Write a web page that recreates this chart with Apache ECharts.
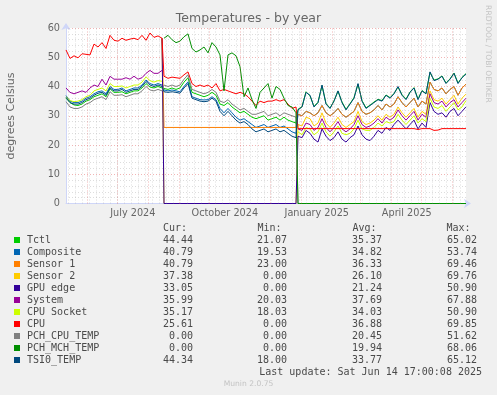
<!DOCTYPE html>
<html><head><meta charset="utf-8">
<script src="https://cdn.jsdelivr.net/npm/echarts@6/dist/echarts.min.js"></script>
<style>html,body{margin:0;padding:0;background:#f0f0f0;}#c{width:497px;height:395px;}</style>
</head><body><div id="c"></div>
<script>
// ---- data ----
const startDate = [2024, 5, 10, 17]; // graph starts 400 days before last update
const days = [0,4,8,12,16,20,24,28,32,36,40,44,48,52,56,60,64,68,72,76,80,84,88,92,96,
  98,102,106,110,114,118,122,126,130,134,138,142,146,150,154,158,162,166,170,174,178,182,186,190,194,198,202,206,210,214,218,222,226,230,
  232,236,240,244,248,252,256,260,264,268,272,276,280,284,288,292,296,300,304,308,312,316,320,324,328,332,336,340,344,348,352,356,360,364,368,372,376,380,384,388,392,396,400];
const monthStarts = ['2024-06-01','2024-07-01','2024-08-01','2024-09-01','2024-10-01','2024-11-01','2024-12-01','2025-01-01','2025-02-01','2025-03-01','2025-04-01','2025-05-01','2025-06-01'];
const tickDates = ['2024-07-16','2024-10-16','2025-01-16','2025-04-16'];
const tickLabels = ['July 2024','October 2024','January 2025','April 2025'];
const yTicks = [0,10,20,30,40,50,60];

const names = ['Tctl','Composite','Sensor 1','Sensor 2','GPU edge','System','CPU Socket','CPU','PCH_CPU_TEMP','PCH_MCH_TEMP','TSI0_TEMP'];
const colors = ['#00CC00','#0066B3','#FF8000','#FFCC00','#330099','#990099','#CCFF00','#FF0000','#808080','#008F00','#00487D'];
const curVals = ['44.44','40.79','40.79','37.38','33.05','35.99','35.17','25.61','0.00','0.00','44.34'];
const minVals = ['21.07','19.53','23.00','0.00','0.00','20.03','18.03','0.00','0.00','0.00','18.00'];
const avgVals = ['35.37','34.82','36.33','26.10','21.24','37.69','34.03','36.88','20.45','19.94','33.77'];
const maxVals = ['65.02','53.74','69.46','69.76','50.90','67.88','50.90','69.85','51.62','68.06','65.12'];

const tctl = [36,34.5,33.7,33.5,34,35,35.5,36.5,37,37.5,36.5,39.2,38,38,38.2,37.5,38,38.5,38.5,39.5,41,39.8,39.5,40,39.5,
  39.5,39,39.5,39,39.5,41.5,43,38,37.5,37,36.5,37,38,37,34,33.5,34.5,33,32,31,31.5,30.5,29.5,29,29.5,30,28.5,29,29.5,28.5,29.5,28.5,28,27.5,
  32.2,33.1,38.2,36.8,33.2,34.6,40.3,34.2,32.6,35.1,38.4,34.7,32.2,34.1,36.2,40.8,35.2,32.7,33.6,34.7,35.6,35.2,37.1,36.2,37.6,39.8,37.2,35.7,38.1,39.6,35.7,38.6,37.6,44.8,42.2,42.6,43.6,41.2,42.6,44.6,41.2,43.1,44.4];
const composite = [36.9,35,34.5,34.5,35,36,36.5,37.5,38.2,38.5,37.5,40,39,39,39.5,38.5,39,39.5,39.5,40.5,42.2,41,40.5,41,40.5,
  38.8,38.5,38.8,38.5,38.2,40,41.6,36.5,36,35.5,35.4,35.5,36.5,35.5,32.5,31,32.5,31,29.5,28.5,29,28,27,26,26.5,27,26,26.5,27,26,26.5,25.5,24.5,24,
  30.5,30,31.5,31,30,31,33.5,31,30,31,32.5,30.5,29.5,30.5,31.5,34.5,31.5,30.5,31,32,33.5,32,34,33,34,36.5,34.5,33,34.5,36,33,35,34,41.5,39,38.5,39.5,37.5,39,40,37,39.5,40.8];
const sensor1 = [null,null,null,null,null,null,null,null,null,null,null,null,null,null,null,null,null,null,null,null,null,null,null,null,56.5,
  26,26,26,26,26,26,26,26,26,26,26,26,26,26,26,26,26,26,26,26,26,26,26,26,26,26,26,26,26,26,26,26,26,26,
  30.5,30,31.5,31,30,31,33.5,31,30,31,32.5,30.5,29.5,30.5,31.5,34.5,31.5,30.5,31,32,33.5,32,34,33,34,36.5,34.5,33,34.5,36,33,35,34,41.5,39,38.5,39.5,37.5,39,40,37,39.5,40.8];
const sensor2 = [null,null,null,null,null,null,null,null,null,null,null,null,null,null,null,null,null,null,null,null,null,null,null,null,56.5,
  0,0,0,0,0,0,0,0,0,0,0,0,0,0,0,0,0,0,0,0,0,0,0,0,0,0,0,0,0,0,0,0,0,0,
  27,26.5,29.5,29,26.5,27.5,31,27.5,26,27.5,29.5,27,26,27,28,31.5,28,27,27.5,28.5,30,28.5,30.5,29.5,30.5,33,31,29.5,31,32.5,29.5,31.5,30.5,38.5,35.5,35,36,34,35.5,37,34,36,37.4];
const gpuEdge = [null,null,null,null,null,null,null,null,null,null,null,null,null,null,null,null,null,null,null,null,null,null,null,null,56.5,
  0,0,0,0,0,0,0,0,0,0,0,0,0,0,0,0,0,0,0,0,0,0,0,0,0,0,0,0,0,0,0,0,0,0,
  23,22.5,25,24,22,21,25.5,23,21.5,22.5,24.5,22,21,22.5,23.5,26.5,23.5,22,21.5,23,25,24,26,25,27,28.5,27,25.5,27,28.5,25.5,27.5,26,34.5,31.5,30.5,31,29.5,31.5,32.5,30,31.5,33.05];
const system = [39.5,38,37.5,38,38.5,38,39.5,40.5,40,42.5,40.5,43.5,42.5,42.5,42.5,43,42.5,43.5,42.5,43,44.5,45.5,44.5,44.5,45.5,
  null,null,null,null,null,null,null,null,null,null,null,null,null,null,null,null,null,null,null,null,null,null,null,null,null,null,null,null,null,null,null,null,null,null,
  25.5,25,27.5,27,25,26,29,26,24.5,26,28,25.5,24.5,25.5,27,30,27,26,26.5,27.5,29,27.5,29.5,28.5,29.5,32,30,28.5,30,31.5,28.5,30.5,29.5,37.5,34.5,34,35,33,34.5,35.5,33,34.5,36];
const cpuSocket = [36.5,35.2,34.8,35,35.5,36.5,37,38.5,39,39.5,38.5,41,40,40,40.2,39.5,40,40.5,40.5,41.5,43.3,42,41.5,42,41.8,
  null,null,null,null,null,null,null,null,null,null,null,null,null,null,null,null,null,null,null,null,null,null,null,null,null,null,null,null,null,null,null,null,null,null,
  24.5,23.5,26,25.5,23.5,24.5,27.5,24.5,23,24.5,26.5,24,23.5,24,25.5,28.5,25.5,25,25,26,27.5,26.5,28,27.5,28,30.5,28.5,27,28.5,30,27.5,29,28,36,33,32.5,33.5,31.5,33,34.5,32,33,35.2];
const cpu = [52.5,49.6,50.5,49.8,51.2,51,50.8,54.5,53.5,55,53,57.5,55.8,55.5,56.5,55.8,56.2,56.5,56,57.5,55.8,58.3,56.8,57.3,56.5,
  43.5,42.8,43.2,43,42.8,44,45,41,40,40.5,40,40.5,39.5,41,38.5,39,38.5,38,37.5,38,37.5,36.5,35,33.5,35,34.5,35,35,35.5,35,35.5,34,32.5,33,
  25.6,25.6,25.6,25.6,25.6,25.6,25.6,25.6,25.6,25.6,25.6,25.6,25.6,25.6,25.6,25.6,25.6,25.6,25.6,25.6,25.6,25.6,25.6,25.6,25.6,25.6,25.6,25.6,25.6,25.6,25.3,25.6,25.6,25.6,25.0,25.1,25.6,25.6,25.6,25.6,25.6,25.6,25.6];
const pchCpu = [34.8,33,32.5,32.5,33,34,34.5,35.5,36,36.5,35.5,38.2,37,37,37.2,36.5,37,37.5,37.5,38.5,40,38.8,38.5,39,38.5,
  40.5,40,40.5,40,40.5,42.5,44,39,38.5,38,37.5,38,39,38,35,34.5,35.5,34,33,32,32.5,31.5,30.5,30.5,31,31.5,30,30.5,31,30,31,30.5,30,29.5,
  0,0,0,0,0,0,0,0,0,0,0,0,0,0,0,0,0,0,0,0,0,0,0,0,0,0,0,0,0,0,0,0,0,0,0,0,0,0,0,0,0,0,0];
const pchMch = [null,null,null,null,null,null,null,null,null,null,null,null,null,null,null,null,null,null,null,null,null,null,null,null,null,
  56.5,57.5,56,55,55.5,57,58,53,51.8,52.5,53.5,51.5,55,53.5,50.8,38.5,50.8,51.5,50.5,46.8,36.5,39.5,35.5,32.5,38,39.5,41,36,40,39,36,33.5,33,31,
  0,0,0,0,0,0,0,0,0,0,0,0,0,0,0,0,0,0,0,0,0,0,0,0,0,0,0,0,0,0,0,0,0,0,0,0,0,0,0,0,0,0,0];
const tsi0 = [36.3,34.5,34,34,34.5,35.5,36,37,37.7,38,37,39.5,38.5,38.5,39,38,38.5,39,39,40,41.7,40.5,40,40.5,40,
  38.2,38,38.2,38,37.7,39.5,41,36,35.5,35,34.8,35,36,35,31.5,30,31.5,30,28.5,27.5,28,27,25.5,24.5,25,25.5,24.5,25,25.5,24.5,25,24,23,22.5,
  32,33,38,37,33,34.5,40.5,34,32.5,35,38.5,34.5,32,34,36,41,35,32.5,33.5,34.5,35.5,35,37,36,37.5,40,37,35.5,38,39.5,35.5,38.5,37.5,45,42,42.5,43.5,41,42.5,44.5,41,43,44.3];

const seriesValues = [tctl, composite, sensor1, sensor2, gpuEdge, system, cpuSocket, cpu, pchCpu, pchMch, tsi0];

// ---- helpers ----
const t0 = new Date(startDate[0], startDate[1]-1, startDate[2], startDate[3], 0, 0).getTime();
function dayOf(s, extraH) {
  const p = s.split('-').map(Number);
  return (new Date(p[0], p[1]-1, p[2], extraH || 0).getTime() - t0) / 86400000;
}
const monthPos = monthStarts.map(s => dayOf(s));
const labelPos = tickDates.map(s => dayOf(s, 12));
const weekPos = [];
for (let k = 0; ; k++) {
  const d = (new Date(2024, 4, 13 + 7*k).getTime() - t0) / 86400000;
  if (d > 400) break;
  weekPos.push(d);
}

const FONT = 'DejaVu Sans';
const MONO = 'DejaVu Sans Mono';
const TXT = '#4a4a4a';

const gridLines = [];
weekPos.forEach(v => gridLines.push({xAxis: v, lineStyle: {color: 'rgba(150,150,150,0.32)', type: [1,2], width: 1}}));
monthPos.forEach(v => gridLines.push({xAxis: v, lineStyle: {color: 'rgba(225,90,90,0.45)', type: [1,2], width: 1}}));

const series = [{
  type: 'line', data: [[0, -100]], showSymbol: false, silent: true, z: 1,
  lineStyle: {opacity: 0},
  markLine: {silent: true, symbol: ['none','none'], animation: false, label: {show: false}, data: gridLines}
}];
names.forEach((n, i) => {
  series.push({
    name: n, type: 'line', showSymbol: false, z: 3, animation: false,
    lineStyle: {color: colors[i], width: 1},
    itemStyle: {color: colors[i]},
    data: days.map((d, j) => [d, seriesValues[i][j]])
  });
});

// ---- legend / text graphics ----
const g = [];
g.push({type:'text', x: 248.5, y: 19, style: {text: 'Temperatures - by year', fill: '#666', font: '12.5px ' + FONT, align: 'center', verticalAlign: 'middle'}});
g.push({type:'text', x: 11, y: 116, rotation: Math.PI/2, style: {text: 'degrees Celsius', fill: '#666', font: '11px ' + FONT, align: 'center', verticalAlign: 'middle'}});
g.push({type:'text', x: 487.5, y: 54, rotation: -Math.PI/2, style: {text: 'RRDTOOL / TOBI OETIKER', fill: '#c4c4c4', font: '7.6px ' + FONT, align: 'center', verticalAlign: 'middle'}});
const hdrY = 228.5;
g.push({type:'text', x: 163, y: hdrY, style: {text: 'Cur:', fill: TXT, font: '10px ' + MONO, align: 'left', verticalAlign: 'middle'}});
g.push({type:'text', x: 257.5, y: hdrY, style: {text: 'Min:', fill: TXT, font: '10px ' + MONO, align: 'left', verticalAlign: 'middle'}});
g.push({type:'text', x: 352.5, y: hdrY, style: {text: 'Avg:', fill: TXT, font: '10px ' + MONO, align: 'left', verticalAlign: 'middle'}});
g.push({type:'text', x: 446.5, y: hdrY, style: {text: 'Max:', fill: TXT, font: '10px ' + MONO, align: 'left', verticalAlign: 'middle'}});
names.forEach((n, i) => {
  const y = 240 + 12 * i;
  g.push({type:'rect', shape: {x: 14, y: y - 3, width: 6, height: 6}, style: {fill: colors[i]}});
  g.push({type:'text', x: 27, y: y, style: {text: n, fill: TXT, font: '10px ' + MONO, align: 'left', verticalAlign: 'middle'}});
  g.push({type:'text', x: 193, y: y, style: {text: curVals[i], fill: TXT, font: '10px ' + MONO, align: 'right', verticalAlign: 'middle'}});
  g.push({type:'text', x: 287, y: y, style: {text: minVals[i], fill: TXT, font: '10px ' + MONO, align: 'right', verticalAlign: 'middle'}});
  g.push({type:'text', x: 382, y: y, style: {text: avgVals[i], fill: TXT, font: '10px ' + MONO, align: 'right', verticalAlign: 'middle'}});
  g.push({type:'text', x: 477, y: y, style: {text: maxVals[i], fill: TXT, font: '10px ' + MONO, align: 'right', verticalAlign: 'middle'}});
});
g.push({type:'text', x: 482, y: 372, style: {text: 'Last update: Sat Jun 14 17:00:08 2025', fill: TXT, font: '10px ' + MONO, align: 'right', verticalAlign: 'middle'}});
g.push({type:'text', x: 248.5, y: 384.5, style: {text: 'Munin 2.0.75', fill: '#c4c4c4', font: '7.6px ' + FONT, align: 'center', verticalAlign: 'middle'}});

const chart = echarts.init(document.getElementById('c'), null, {renderer: 'canvas', width: 497, height: 395});
chart.setOption({
  animation: false,
  backgroundColor: '#f0f0f0',
  grid: {left: 66, top: 28, width: 400, height: 175.5, show: true, backgroundColor: '#ffffff', borderWidth: 0},
  xAxis: {
    type: 'value', min: 0, max: 400,
    axisLine: {show: true, lineStyle: {color: '#CFD6F8', width: 1}, symbol: ['none','arrow'], symbolSize: [7, 7], symbolOffset: [0, 5]},
    axisTick: {show: false},
    splitLine: {show: false},
    axisLabel: {
      customValues: labelPos, margin: 5, color: '#666', fontFamily: FONT, fontSize: 9.7,
      formatter: function (v) {
        let best = 0, bd = 1e9;
        labelPos.forEach((p, i) => { const dd = Math.abs(p - v); if (dd < bd) { bd = dd; best = i; } });
        return tickLabels[best];
      }
    }
  },
  yAxis: {
    type: 'value', min: yTicks[0], max: yTicks[yTicks.length-1], interval: 10, splitNumber: 6,
    axisLine: {show: true, lineStyle: {color: '#CFD6F8', width: 1}, symbol: ['none','arrow'], symbolSize: [7, 7], symbolOffset: [0, 5]},
    axisTick: {show: false},
    axisLabel: {margin: 6, color: '#666', fontFamily: FONT, fontSize: 9.7},
    splitLine: {show: true, lineStyle: {color: 'rgba(225,90,90,0.45)', type: [1,2], width: 1}},
    minorTick: {show: false, splitNumber: 5},
    minorSplitLine: {show: true, lineStyle: {color: 'rgba(150,150,150,0.32)', type: [1,2], width: 1}}
  },
  series: series,
  graphic: g
});
</script>
</body></html>
